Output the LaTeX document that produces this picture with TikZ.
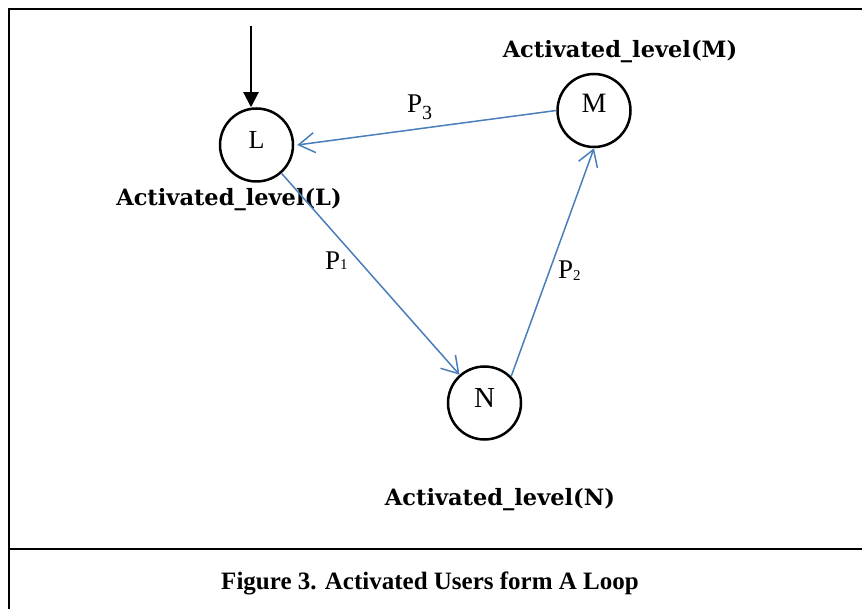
\documentclass[tikz,border=0pt]{standalone}
\usepackage{fontspec}
\setmainfont{Liberation Serif}
\newfontfamily\levelfont{DejaVu Serif}
\usetikzlibrary{arrows.meta}
\definecolor{linkblue}{RGB}{74,126,187}
\begin{document}
\begin{tikzpicture}[x=1pt,y=-1pt,
  user/.style={circle, draw, line width=2.5pt, minimum size=73pt, inner sep=0pt},
  link/.style={draw=linkblue, line width=1.5pt, -{Straight Barb[length=16pt,width=20pt]}},
  levellabel/.style={font=\levelfont\bfseries\fontsize{22.5}{27}\selectfont, inner sep=0pt, anchor=base},
  plabel/.style={font=\fontsize{27}{31}\selectfont, inner sep=0pt, anchor=base west},
  framerule/.style={line width=2.3pt}]
\useasboundingbox (0,0) rectangle (862,609);

% frame and caption rule
\draw[framerule] (8.7,609) -- (8.7,9) -- (862,9);
\draw[framerule] (8.7,549) -- (862,549);

% users
\node[user, font=\fontsize{26}{30}\selectfont] (L) at (256.5,145) {\raisebox{10pt}{L}};
\node[user, font=\fontsize{28}{32}\selectfont] (M) at (594,110.5) {\raisebox{14pt}{M}};
\node[user, font=\fontsize{29}{33}\selectfont] (N) at (484.5,403) {\raisebox{9pt}{N}};

% activation levels
\node[levellabel] (lvlL) at (229,206) {Activated\_level(L)};
\node[levellabel] (lvlM) at (620,58) {Activated\_level(M)};
\node[levellabel] (lvlN) at (500,505) {Activated\_level(N)};

% incoming activation
\coordinate (entry) at (251,26);
\draw[line width=2pt, -{Triangle[length=15pt,width=15pt]}] (entry) -- (entry |- L.north);

% propagation loop
\draw[link] (L) -- (N);
\draw[link] (N.45) -- (M.south);
\draw[link] (M.west) -- ([xshift=3pt]L.east);

% propagation probabilities
\node[plabel] (p1) at (325,270) {P\raisebox{0pt}{\fontsize{15}{15}\selectfont 1}};
\node[plabel] (p2) at (558,279) {P\raisebox{-2pt}{\fontsize{15}{15}\selectfont 2}};
\node[plabel] (p3) at (407,113) {P\raisebox{-7pt}{\fontsize{20}{20}\selectfont 3}};

% caption
\node[font=\bfseries\fontsize{25}{30}\selectfont, inner sep=0pt, anchor=base] (caption) at (430,589) {Figure 3. Activated Users form A Loop};
\end{tikzpicture}
\end{document}
